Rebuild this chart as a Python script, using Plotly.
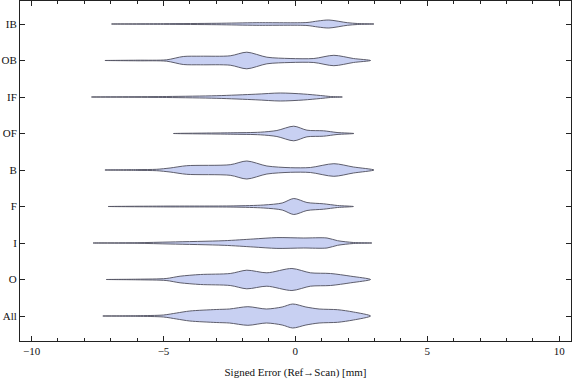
import plotly.graph_objects as go

# Categories (bottom to top)
categories = ["All", "O", "I", "F", "B", "OF", "IF", "OB", "IB"]

# Violin outlines: x positions (mm) and half-widths (relative density units)
profiles = {
    "All": ([-7.3, -6.0, -5.0, -4.5, -4.0, -3.0, -2.5, -1.8, -1.1, -0.5, -0.1, 0.4, 0.9, 1.6, 2.2, 2.85],
            [0.0, 0.3, 1.0, 3.0, 5.0, 6.5, 7.0, 9.3, 7.0, 9.0, 12.0, 9.0, 7.0, 6.3, 4.0, 0.0]),
    "O": ([-7.17, -6.0, -4.9, -4.37, -3.6, -2.47, -1.84, -1.08, -0.13, 0.57, 1.33, 2.1, 2.85],
          [0.0, 0.3, 1.0, 3.3, 5.0, 6.0, 9.3, 6.7, 11.0, 6.7, 6.0, 3.3, 0.0]),
    "I": ([-7.67, -6.0, -4.75, -2.7, -1.6, -0.7, 0.3, 1.2, 1.6, 2.2, 2.9],
          [0.0, 0.3, 1.0, 2.3, 4.0, 5.4, 5.0, 5.0, 2.3, 0.5, 0.0]),
    "F": ([-7.1, -5.0, -2.36, -1.2, -0.5, -0.06, 0.44, 1.07, 1.6, 2.2],
          [0.0, 0.4, 0.6, 1.5, 3.5, 8.0, 4.0, 2.7, 1.0, 0.0]),
    "B": ([-7.22, -6.0, -5.26, -4.75, -4.12, -2.47, -1.84, -1.08, -0.19, 0.57, 1.46, 2.2, 2.98],
          [0.0, 0.4, 0.7, 2.0, 4.3, 5.3, 9.0, 4.0, 2.3, 2.5, 6.3, 3.0, 0.0]),
    "OF": ([-4.62, -2.47, -1.33, -0.7, -0.06, 0.44, 1.07, 1.58, 2.22],
           [0.0, 0.7, 1.3, 3.0, 7.3, 3.3, 2.7, 1.0, 0.0]),
    "IF": ([-7.73, -4.88, -2.98, -1.5, -0.57, 0.3, 0.95, 1.33, 1.78],
           [0.0, 0.5, 1.3, 2.8, 4.0, 3.0, 1.5, 0.5, 0.0]),
    "OB": ([-7.22, -6.0, -4.88, -4.25, -3.6, -2.47, -1.84, -1.08, -0.2, 0.7, 1.46, 2.2, 2.85],
           [0.0, 0.3, 0.7, 4.0, 4.3, 4.7, 8.3, 3.3, 2.0, 2.0, 5.2, 2.0, 0.0]),
    "IB": ([-6.97, -5.0, -2.98, -1.46, 0.44, 0.85, 1.27, 1.97, 2.35, 2.98],
           [0.0, 0.3, 0.7, 1.3, 1.5, 3.0, 4.0, 1.3, 0.5, 0.0]),
}

x_ticks = [-10, -5, 0, 5, 10]
x_title = "Signed Error (Ref\u2192Scan) [mm]"

SCALE = 1.0 / 36.5  # density unit -> category spacing
FILL = "rgba(200,208,242,1)"
EDGE = "rgba(85,85,100,0.95)"
FONT = "Liberation Serif, Times New Roman, serif"

fig = go.Figure()
for i, cat in enumerate(categories):
    xs, hw = profiles[cat]
    top_x = list(xs)
    top_y = [i + h * SCALE for h in hw]
    bot_x = list(reversed(xs))
    bot_y = [i - h * SCALE for h in reversed(hw)]
    fig.add_trace(go.Scatter(
        x=top_x + bot_x[1:],
        y=top_y + bot_y[1:],
        mode="lines",
        fill="toself",
        fillcolor=FILL,
        line=dict(color=EDGE, width=1, shape="spline", smoothing=0.8),
        hoverinfo="skip",
        showlegend=False,
    ))

fig.update_layout(
    width=576, height=381,
    margin=dict(l=20, r=5, t=1, b=40),
    paper_bgcolor="white", plot_bgcolor="white",
    font=dict(family=FONT, size=11, color="#111"),
    xaxis=dict(
        range=[-10.44, 10.45],
        tickvals=x_ticks,
        ticks="inside", ticklen=5, tickcolor="#222", tickwidth=1,
        showline=True, linecolor="#222", linewidth=1, mirror="allticks",
        showgrid=False, zeroline=False,
        minor=dict(dtick=1, ticks="inside", ticklen=3, tickcolor="#222", showgrid=False),
        title=dict(text=x_title, font=dict(family=FONT, size=11, color="#111"), standoff=12),
        tickfont=dict(family=FONT, size=11),
    ),
    yaxis=dict(
        range=[-0.685, 8.63],
        tickvals=list(range(len(categories))),
        ticktext=categories,
        ticks="inside", ticklen=5, tickcolor="#222", tickwidth=1,
        showline=True, linecolor="#222", linewidth=1, mirror="allticks",
        showgrid=False, zeroline=False,
        tickfont=dict(family=FONT, size=11),
    ),
)

fig.write_html(
    "out.html",
    config={"displayModeBar": False},
    post_script="document.body.style.margin='0';document.body.style.padding='0';",
)
